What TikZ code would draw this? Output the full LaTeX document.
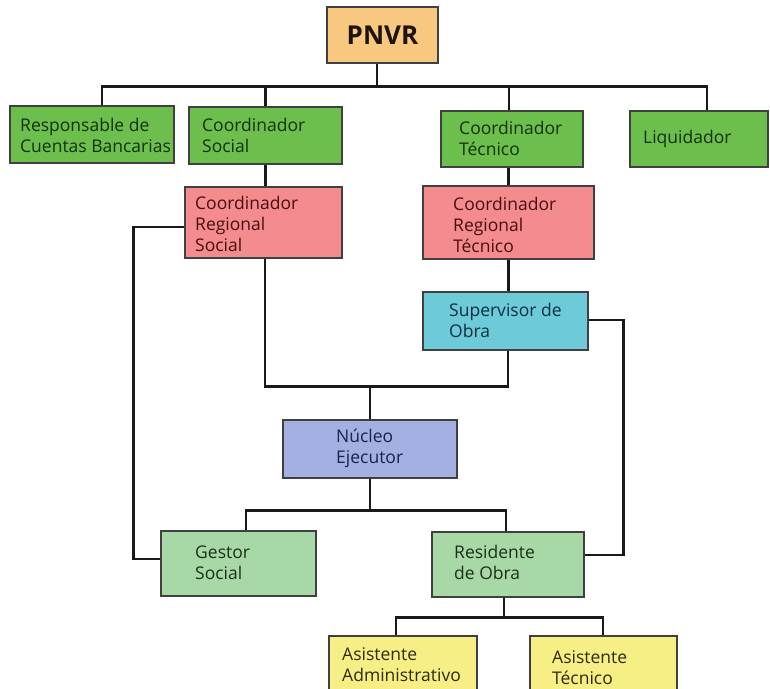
\documentclass[tikz,border=0pt]{standalone}
\usepackage{fontspec}
\setmainfont{Open Sans}
\begin{document}
\begin{tikzpicture}[x=1pt,y=-1pt,
  box/.style={draw=black!75, line width=1.1pt, rectangle, inner sep=0pt},
  txt/.style={anchor=base west, align=left, inner sep=0pt, font=\fontsize{17.5}{21}\selectfont},
  conn/.style={draw=black!90, line width=2.3pt},
  cgreen/.style={fill=boxgreen},
  cpink/.style={fill=boxpink},
]
\definecolor{boxorange}{HTML}{F8C780}
\definecolor{boxgreen}{HTML}{6DBF4D}
\definecolor{boxpink}{HTML}{F38B8F}
\definecolor{boxcyan}{HTML}{6CCAD9}
\definecolor{boxlav}{HTML}{A4AFE2}
\definecolor{boxlgreen}{HTML}{A8D8A6}
\definecolor{boxyellow}{HTML}{F7EE86}
\definecolor{tgreen}{HTML}{163008}
\definecolor{tpink}{HTML}{4A0E0E}
\definecolor{tcyan}{HTML}{0C3040}
\definecolor{tlav}{HTML}{18244E}
\definecolor{tlgreen}{HTML}{183218}
\definecolor{tyellow}{HTML}{302A08}
\useasboundingbox (0,0) rectangle (770,688);

% boxes
\node[box, fill=boxorange, minimum width=111pt, minimum height=56pt] (pnvr) at (382.5,35) {};
\node[anchor=base, inner sep=0pt, font=\fontsize{26}{30}\selectfont\bfseries, text=black!85!brown] (pnvr-t) at (382.5,44) {PNVR};

\node[box, cgreen, minimum width=164pt, minimum height=57pt] (resp) at (92,134.5) {};
\node[txt, text=tgreen] (resp-t) at (20,152) {Responsable de\\Cuentas Bancarias};

\node[box, cgreen, minimum width=153pt, minimum height=57pt] (csoc) at (265.5,135.5) {};
\node[txt, text=tgreen] (csoc-t) at (202,152) {Coordinador\\Social};

\node[box, cgreen, minimum width=142pt, minimum height=56pt] (ctec) at (512,139) {};
\node[txt, text=tgreen] (ctec-t) at (459,155) {Coordinador\\Técnico};

\node[box, cgreen, minimum width=138pt, minimum height=56pt] (liq) at (699,139) {};
\node[txt, text=tgreen] (liq-t) at (643,143) {Liquidador};

\node[box, cpink, minimum width=157pt, minimum height=71pt] (crs) at (263.5,222.5) {};
\node[txt, text=tpink] (crs-t) at (195,251) {Coordinador\\Regional\\Social};

\node[box, cpink, minimum width=171pt, minimum height=73pt] (crt) at (508.5,222.5) {};
\node[txt, text=tpink] (crt-t) at (453,252) {Coordinador\\Regional\\Técnico};

\node[box, fill=boxcyan, minimum width=165pt, minimum height=58pt] (sup) at (505.5,321) {};
\node[txt, text=tcyan] (sup-t) at (449,337) {Supervisor de\\Obra};

\node[box, fill=boxlav, minimum width=174pt, minimum height=58pt] (nuc) at (370,449) {};
\node[txt, text=tlav] (nuc-t) at (336,463) {Núcleo\\Ejecutor};

\node[box, fill=boxlgreen, minimum width=155pt, minimum height=65pt] (gest) at (238.5,563.5) {};
\node[txt, text=tlgreen] (gest-t) at (195,579) {Gestor\\Social};

\node[box, fill=boxlgreen, minimum width=152pt, minimum height=65pt] (res) at (508,564.5) {};
\node[txt, text=tlgreen] (res-t) at (454,579) {Residente\\de Obra};

\node[box, fill=boxyellow, minimum width=148pt, minimum height=57pt] (aadm) at (403,664.5) {};
\node[txt, text=tyellow] (aadm-t) at (342,681) {Asistente\\Administrativo};

\node[box, fill=boxyellow, minimum width=147pt, minimum height=57pt] (atec) at (603.5,664.5) {};
\node[txt, text=tyellow] (atec-t) at (552,684) {Asistente\\Técnico};

% connectors
\draw[conn] ([xshift=-5.5pt]pnvr.south) -- ++(0,24);
\draw[conn] ([xshift=10pt]resp.north) -- ++(0,-19) -| ([xshift=8pt]liq.north);
\draw[conn] (csoc.north) -- ++(0,-20);
\draw[conn] ([xshift=-3pt]ctec.north) -- ++(0,-24);
\draw[conn] (csoc.south) -- (csoc.south |- crs.north);
\draw[conn] (crt.north) -- (crt.north |- ctec.south);
\draw[conn] ([yshift=-4.5pt]crs.west) -- ++(-51,0) |- ([yshift=4.5pt]gest.west);
\draw[conn] ([xshift=1.5pt]crs.south) -- ++(0,128) -| ([xshift=2.5pt]sup.south);
\draw[conn] (crt.south) -- (crt.south |- sup.north);
\draw[conn] (nuc.north) -- ++(0,-34);
\draw[conn] ([yshift=1pt]sup.east) -- ++(35,0) |- ([yshift=9.5pt]res.east);
\draw[conn] (nuc.south) -- ++(0,33);
\draw[conn] ([xshift=7.5pt]gest.north) -- ++(0,-20) -| ([xshift=-2pt]res.north);
\draw[conn] ([xshift=-4pt]res.south) -- ++(0,21);
\draw[conn] ([xshift=-7pt]aadm.north) -- ++(0,-18) -| ([xshift=-0.5pt]atec.north);
\end{tikzpicture}
\end{document}
